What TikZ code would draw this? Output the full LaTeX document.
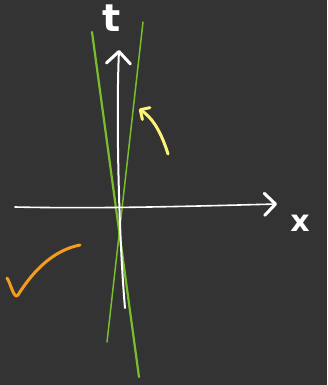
\documentclass[tikz,border=0pt]{standalone}
\usepackage{fontspec}
\setsansfont{DejaVu Sans}
\usetikzlibrary{arrows.meta}
\definecolor{bgdark}{RGB}{51,51,51}
\definecolor{limegreen}{RGB}{122,190,42}
\definecolor{paleyellow}{RGB}{250,244,120}
\definecolor{checkorange}{RGB}{244,156,30}
\begin{document}
\begin{tikzpicture}[
   x=1pt,y=-1pt,
   axis/.style={white,line width=1.6pt,line cap=round},
   tip/.style={-{Straight Barb[length=#1,line width=3pt,round]}},
   lbl/.style={text=white,font=\sffamily\bfseries\fontsize{#1}{#1}\selectfont,inner sep=0pt},
   cone/.style={limegreen,line width=1.5pt,line cap=round},
   stroke/.style={line width=3pt,line cap=round,line join=round}
 ]
  \fill[bgdark] (0,0) rectangle (327,385);
  \useasboundingbox (0,0) rectangle (327,385);
  % axes
  \coordinate (xstart) at (15,207);
  \coordinate (xend) at (277,204);
  \coordinate (tstart) at (125,308);
  \coordinate (tend) at (119,50);
  \node[lbl=38] (tlabel) at (112,18) {t};
  \node[lbl=30] (xlabel) at (300,223) {x};
  % light cone
  \coordinate (cAtop) at (92,32);
  \coordinate (cAbot) at (139,377);
  \coordinate (cBtop) at (143,22);
  \coordinate (cBbot) at (107,342);
  \draw[cone,line width=2.2pt] (cAtop) -- (cAbot);
  \draw[cone] (cBtop) -- (cBbot);
  \draw[axis,tip=11pt] (xstart) .. controls (100,209) and (200,206) .. (xend);
  \draw[axis,line width=2pt,tip=12pt] (tstart) .. controls (119,240) and (116,120) .. (tend);
  % marks
  \draw[stroke,paleyellow,-{Straight Barb[length=7pt,width=14pt,line width=3pt,round]}]
    (168,154) .. controls (160,128) and (150,116) .. (139,109);
  \draw[stroke,checkorange] (7,278) .. controls (11,284) and (14,300) .. (18,295)
    .. controls (35,268) and (55,250) .. (80,245);
 \end{tikzpicture}
\end{document}
